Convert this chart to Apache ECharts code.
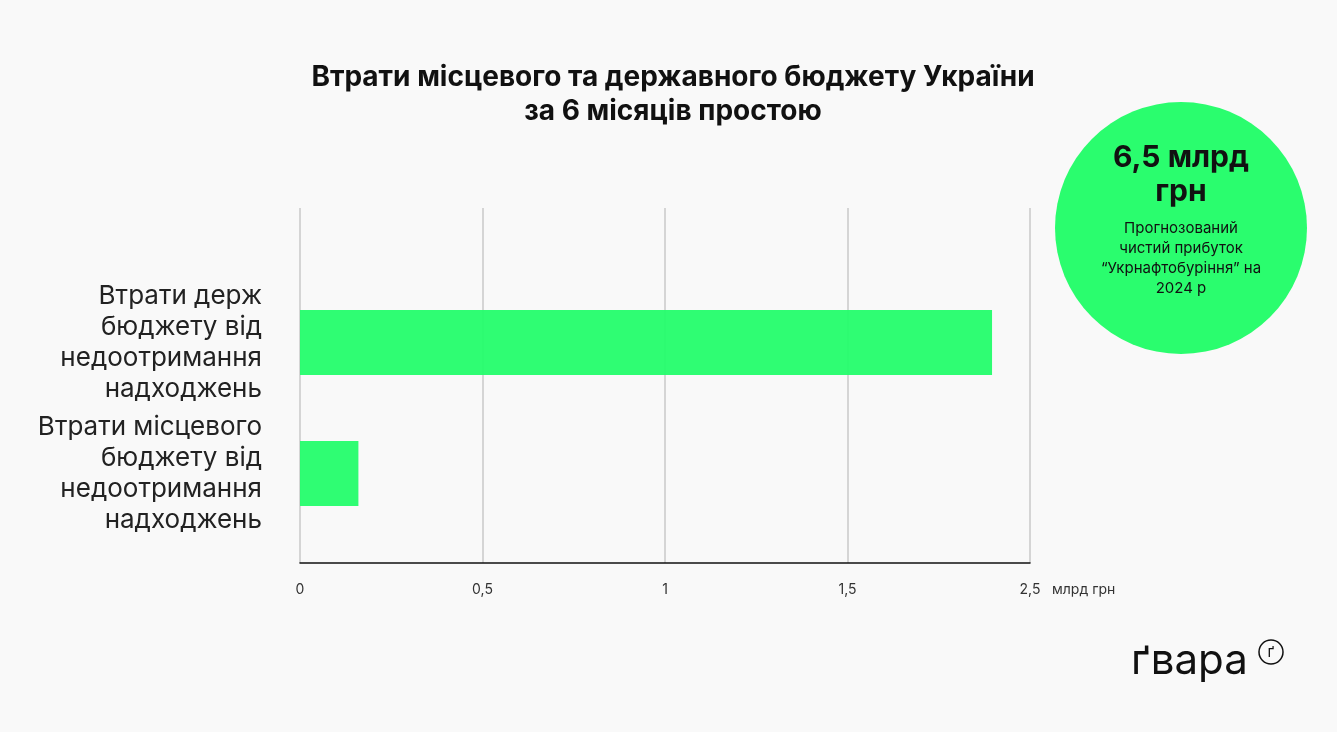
<!DOCTYPE html><html><head><meta charset="utf-8"><script src="https://cdn.jsdelivr.net/npm/echarts@6/dist/echarts.min.js"></script>
<style>body{margin:0;background:#f9f9f9}#c{width:1337px;height:732px}</style></head><body><div id="c"></div><script>
const categories=["Втрати місцевого\nбюджету від\nнедоотримання\nнадходжень","Втрати держ\nбюджету від\nнедоотримання\nнадходжень"];
const values=[0.2,2.37];
const tickLabels=["0","0,5","1","1,5","2,5"];
const ch=echarts.init(document.getElementById('c'));
const F='Inter, "Noto Sans", sans-serif';
ch.setOption({backgroundColor:'#f9f9f9',
title:{text:"Втрати місцевого та державного бюджету України\nза 6 місяців простою",left:668,top:56,textAlign:'center',textStyle:{fontFamily:F,fontSize:28,fontWeight:'bold',color:'#111',lineHeight:34}},
grid:[{left:300,width:730,top:277,height:262},{left:300,width:730,top:208,height:355}],
xAxis:[{gridIndex:0,min:0,max:2.5,show:false},
{gridIndex:1,min:0,max:2.5,interval:0.625,axisLine:{lineStyle:{color:'#111',width:1.5}},axisTick:{show:false},splitLine:{lineStyle:{color:'#c8c8c8',width:1.5}},axisLabel:{margin:20,fontFamily:F,fontSize:14,color:'#333',formatter:(v)=>tickLabels[Math.round(v/0.625)]}}],
yAxis:[{gridIndex:0,type:'category',data:categories,axisLine:{show:false},axisTick:{show:false},axisLabel:{margin:38,fontFamily:F,fontSize:26,color:'#222',lineHeight:31,align:'right'}},
{gridIndex:1,type:'value',show:false}],
series:[{type:'bar',xAxisIndex:0,yAxisIndex:0,data:values,barWidth:65,itemStyle:{color:'rgba(36,253,108,0.95)'}}],
graphic:[
{type:'text',left:1052,top:583,style:{text:'млрд грн',font:'14px '+F,fill:'#333'}},
{type:'circle',shape:{cx:1181,cy:228,r:126},style:{fill:'#2afd6e'}},
{type:'text',x:1181,y:175,style:{text:'6,5 млрд\nгрн',font:'bold 30px '+F,fill:'#111',align:'center',verticalAlign:'middle',lineHeight:34}},
{type:'text',x:1181,y:258,style:{text:'Прогнозований\nчистий прибуток\n“Укрнафтобуріння” на\n2024 р',font:'15px '+F,fill:'#111',align:'center',verticalAlign:'middle',lineHeight:20}},
{type:'text',x:1131,y:640,style:{text:'ґвара',font:'42px '+F,fill:'#111'}},
{type:'circle',shape:{cx:1271,cy:652,r:12},style:{fill:'none',stroke:'#111',lineWidth:1.5}},
{type:'text',x:1271,y:652,style:{text:'ґ',font:'15px '+F,fill:'#111',align:'center',verticalAlign:'middle'}}
]});
</script></body></html>
